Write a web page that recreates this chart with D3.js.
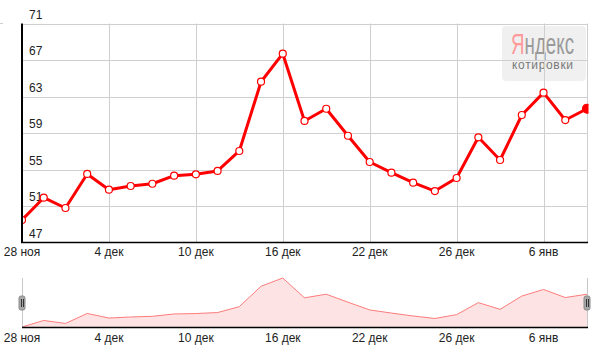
<!DOCTYPE html>
<html>
<head>
<meta charset="utf-8">
<script src="https://cdn.jsdelivr.net/npm/d3@7"></script>
<style>
    body { margin: 0; background: #fff; }
    svg { display: block; font-family: Arial, "Liberation Sans", sans-serif; }
</style>
</head>
<body>
<div class="charts-div"></div>
<script>
// trading days (x categories)
const dates = [
    "28 ноя", "1 дек", "2 дек", "3 дек", "4 дек", "5 дек", "8 дек", "9 дек", "10 дек",
    "11 дек", "12 дек", "15 дек", "16 дек", "17 дек", "18 дек", "19 дек", "22 дек",
    "23 дек", "24 дек", "25 дек", "26 дек", "29 дек", "30 дек", "31 дек", "6 янв", "8 янв", "9 янв"
];

// quotes
const values = [
    49.47, 51.91, 50.78, 54.51, 52.79, 53.19, 53.44, 54.32, 54.47,
    54.84, 57.03, 64.62, 67.69, 60.32, 61.66, 58.70, 55.82,
    54.65, 53.56, 52.64, 54.07, 58.53, 56.04, 60.97, 63.42, 60.42, 61.66
];

const xTickLabels = ["28 ноя", "4 дек", "10 дек", "16 дек", "22 дек", "26 дек", "6 янв"];
const yTickValues = [47, 51, 55, 59, 63, 67, 71];

const width = 596;
const height = 352;
const margins = { left: 22, right: 9, top: 23.5, bottom: 242.5 };
const nav = { top: 278, bottom: 327 };

const data = dates.map((d, i) => ({ date: d, value: values[i] }));

const svg = d3.select(".charts-div")
    .append("svg")
    .attr("width", width)
    .attr("height", height);

const x = d3.scalePoint().domain(dates).range([margins.left, width - margins.right]);
const y = d3.scaleLinear().domain([47, 71]).range([margins.bottom, margins.top]);
const yNav = d3.scaleLinear().domain(d3.extent(values)).range([nav.bottom, nav.top]);

const plotRight = width - margins.right;

// Yandex logo (sits under the grid)
const logo = svg.append("g").attr("class", "logo");
logo.append("rect")
    .attr("x", 502).attr("y", 26).attr("width", 84).attr("height", 55)
    .attr("rx", 4).attr("fill", "#f0f0f0");
const logoText = logo.append("text")
    .attr("x", 511).attr("y", 54)
    .attr("font-size", 29)
    .attr("textLength", 63)
    .attr("lengthAdjust", "spacingAndGlyphs");
logoText.append("tspan").attr("fill", "#ff9a9a").text("Я");
logoText.append("tspan").attr("fill", "#9a9a9a").text("ндекс");
logo.append("text")
    .attr("x", 512).attr("y", 69)
    .attr("font-size", 12)
    .attr("fill", "#7a7a7a")
    .attr("textLength", 61)
    .text("котировки");

// grid
const grid = svg.append("g").attr("class", "grid").attr("stroke", "#cfcfcf").attr("stroke-width", 1);
grid.selectAll("line.h")
    .data(yTickValues.slice(1))
    .join("line")
    .attr("class", "h")
    .attr("x1", margins.left).attr("x2", plotRight)
    .attr("y1", (d) => Math.round(y(d)) + 0.5)
    .attr("y2", (d) => Math.round(y(d)) + 0.5);
grid.selectAll("line.v")
    .data(xTickLabels.slice(1))
    .join("line")
    .attr("class", "v")
    .attr("y1", margins.top).attr("y2", margins.bottom)
    .attr("x1", (d) => Math.round(x(d)) + 0.5)
    .attr("x2", (d) => Math.round(x(d)) + 0.5);
grid.append("line")
    .attr("x1", Math.round(plotRight) + 0.5).attr("x2", Math.round(plotRight) + 0.5)
    .attr("y1", margins.top).attr("y2", margins.bottom);
grid.append("line").attr("x1", 0).attr("x2", 3).attr("y1", 23.5).attr("y2", 23.5);

// y labels sit above their grid lines
svg.append("g")
    .selectAll("text")
    .data(yTickValues)
    .join("text")
    .attr("x", 29)
    .attr("y", (d) => y(d) - 5)
    .attr("font-size", 12)
    .attr("fill", "#222")
    .text((d) => d);

// x labels (main + navigator)
const drawXLabels = (yPos) => {
    svg.append("g")
        .selectAll("text")
        .data(xTickLabels)
        .join("text")
        .attr("x", (d) => x(d))
        .attr("y", yPos)
        .attr("text-anchor", "middle")
        .attr("font-size", 12)
        .attr("fill", "#222")
        .text((d) => d);
};
drawXLabels(256);
drawXLabels(342);

// main series
svg.append("clipPath").attr("id", "plotClip")
    .append("rect")
    .attr("x", margins.left).attr("y", 0)
    .attr("width", plotRight - margins.left + 1.5).attr("height", margins.bottom);

const series = svg.append("g").attr("clip-path", "url(#plotClip)");
series.append("path")
    .datum(data)
    .attr("fill", "none")
    .attr("stroke", "#ff0000")
    .attr("stroke-width", 3)
    .attr("stroke-linejoin", "round")
    .attr("d", d3.line().x((d) => x(d.date)).y((d) => y(d.value)));
series.selectAll("circle")
    .data(data)
    .join("circle")
    .attr("cx", (d) => x(d.date))
    .attr("cy", (d) => y(d.value))
    .attr("r", (d, i) => (i === data.length - 1 ? 4.5 : 3.5))
    .attr("fill", (d, i) => (i === data.length - 1 ? "#ff0000" : "#fff"))
    .attr("stroke", "#ff0000")
    .attr("stroke-width", 1.2);

// axes
svg.append("line")
    .attr("x1", margins.left).attr("x2", margins.left)
    .attr("y1", margins.top).attr("y2", margins.bottom + 0.5)
    .attr("stroke", "#000").attr("stroke-width", 2);
svg.append("line")
    .attr("x1", margins.left - 1).attr("x2", plotRight + 1)
    .attr("y1", margins.bottom).attr("y2", margins.bottom)
    .attr("stroke", "#000").attr("stroke-width", 1.5);

// navigator
const navArea = d3.area().x((d) => x(d.date)).y0(nav.bottom).y1((d) => yNav(d.value));
svg.append("path").datum(data).attr("fill", "#fde3e3").attr("d", navArea);
svg.append("path")
    .datum(data)
    .attr("fill", "none")
    .attr("stroke", "#ff7c7c")
    .attr("stroke-width", 1)
    .attr("d", d3.line().x((d) => x(d.date)).y((d) => yNav(d.value)));

[margins.left + 0.5, Math.round(plotRight) + 0.5].forEach((xPos) => {
    svg.append("line")
        .attr("x1", xPos).attr("x2", xPos)
        .attr("y1", nav.top).attr("y2", nav.bottom)
        .attr("stroke", "#c8c8c8");
});
svg.append("line")
    .attr("x1", margins.left).attr("x2", plotRight + 1)
    .attr("y1", nav.bottom + 0.5).attr("y2", nav.bottom + 0.5)
    .attr("stroke", "#000").attr("stroke-width", 1.5);

// navigator handles
[margins.left, plotRight].forEach((xPos) => {
    const h = svg.append("g").attr("transform", `translate(${Math.round(xPos)},303)`);
    h.append("rect")
        .attr("x", -3).attr("y", -7).attr("width", 6).attr("height", 14).attr("rx", 2)
        .attr("fill", "#a8a8a8").attr("stroke", "#8a8a8a");
    [-1, 1].forEach((dx) => {
        h.append("line")
            .attr("x1", dx + 0.5).attr("x2", dx + 0.5).attr("y1", -4).attr("y2", 4)
            .attr("stroke", "#333");
    });
});
</script>
</body>
</html>
